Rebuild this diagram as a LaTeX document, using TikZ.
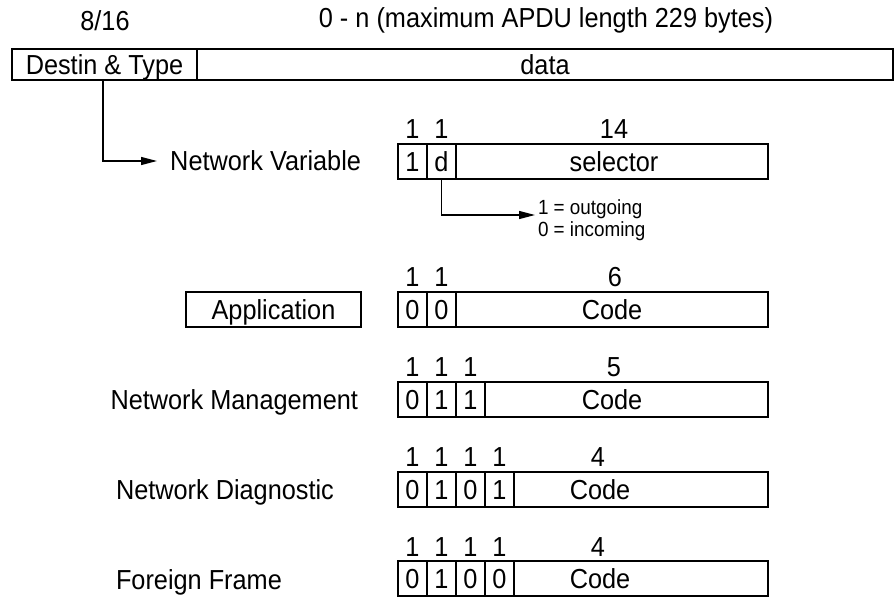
\documentclass[tikz,border=0pt]{standalone}
\usepackage{fontspec}
\setmainfont{Liberation Sans}
\newfontfamily\narrowsans[FakeStretch=0.92]{Liberation Sans}
\usetikzlibrary{arrows.meta}

\begin{document}
\begin{tikzpicture}[x=1pt, y=-1pt,
  txt/.style={font=\narrowsans\fontsize{27.5}{32}\selectfont, inner sep=0pt, outer sep=0pt,
              text height=19.8pt, text depth=0pt},
  small/.style={font=\narrowsans\fontsize{20.5}{24}\selectfont, inner sep=0pt, outer sep=0pt,
                text height=14.8pt, text depth=0pt, anchor=west},
  box/.style={draw=black, line width=1.3pt, inner sep=0pt, outer sep=0pt, anchor=north west, minimum height=35pt},
  bit/.style={box, minimum width=29pt, txt},
  fld/.style={box, minimum width=#1},
  conn/.style={draw=black, line width=1.3pt, -{Triangle[length=16pt, width=8pt]}},
]
\useasboundingbox (0,0) rectangle (894,597);

% frame header
\node[txt] (hdrlen) at (105,21) {8/16};
\node[txt] (hdrdata) at (546,18) {0 - n (maximum APDU length 229 bytes)};
\node[box, txt, anchor=north west, minimum width=185pt, minimum height=31pt] (destin) at (12,49) {Destin \& Type};
\node[box, txt, anchor=north west, minimum width=696pt, minimum height=31pt] (data) at (197,49) {data};

% network variable
\node[txt, anchor=east] (nvlabel) at (361,161) {Network Variable};
\node[txt] at (412.5,129) {1};
\node[txt] at (441.5,129) {1};
\node[txt] at (614,129) {14};
\node[bit] (nv1) at (398,144) {1};
\node[bit] (nvd) at (427,144) {d};
\node[fld=312pt] (nvsel) at (456,144) {};
\node[txt] at (614,161.5) {selector};
\coordinate (nvtip) at (157,161);
\draw[conn] ([xshift=-1.5pt]destin.south) |- (nvtip);
\coordinate (dtip) at (535,215);
\draw[conn] (nvd.south) |- (dtip);
\node[small] (dout) at (538,207) {1 = outgoing};
\node[small] (din) at (538,229) {0 = incoming};

% application
\node[box, txt, minimum width=175pt] (applabel) at (186,292) {Application};
\node[txt] at (412.5,277) {1};
\node[txt] at (441.5,277) {1};
\node[txt] at (615,277) {6};
\node[bit] (ap1) at (398,292) {0};
\node[bit] (ap2) at (427,292) {0};
\node[fld=312pt] (apcode) at (456,292) {};
\node[txt] at (612,309.5) {Code};

% network management
\node[txt, anchor=east] (nmlabel) at (358,400) {Network Management};
\node[txt] at (412.5,367) {1};
\node[txt] at (441.5,367) {1};
\node[txt] at (470.5,367) {1};
\node[txt] at (614,367) {5};
\node[bit] (nm1) at (398,382) {0};
\node[bit] (nm2) at (427,382) {1};
\node[bit] (nm3) at (456,382) {1};
\node[fld=283pt] (nmcode) at (485,382) {};
\node[txt] at (612,399.5) {Code};

% network diagnostic
\node[txt, anchor=west] (ndlabel) at (116,490) {Network Diagnostic};
\node[txt] at (412.5,457) {1};
\node[txt] at (441.5,457) {1};
\node[txt] at (470.5,457) {1};
\node[txt] at (499.5,457) {1};
\node[txt] at (598,457) {4};
\node[bit] (nd1) at (398,472) {0};
\node[bit] (nd2) at (427,472) {1};
\node[bit] (nd3) at (456,472) {0};
\node[bit] (nd4) at (485,472) {1};
\node[fld=254pt] (ndcode) at (514,472) {};
\node[txt] at (600,489.5) {Code};

% foreign frame
\node[txt, anchor=west] (fflabel) at (116,580) {Foreign Frame};
\node[txt] at (412.5,547) {1};
\node[txt] at (441.5,547) {1};
\node[txt] at (470.5,547) {1};
\node[txt] at (499.5,547) {1};
\node[txt] at (598,547) {4};
\node[bit] (ff1) at (398,561) {0};
\node[bit] (ff2) at (427,561) {1};
\node[bit] (ff3) at (456,561) {0};
\node[bit] (ff4) at (485,561) {0};
\node[fld=254pt] (ffcode) at (514,561) {};
\node[txt] at (600,578.5) {Code};
\end{tikzpicture}
\end{document}
